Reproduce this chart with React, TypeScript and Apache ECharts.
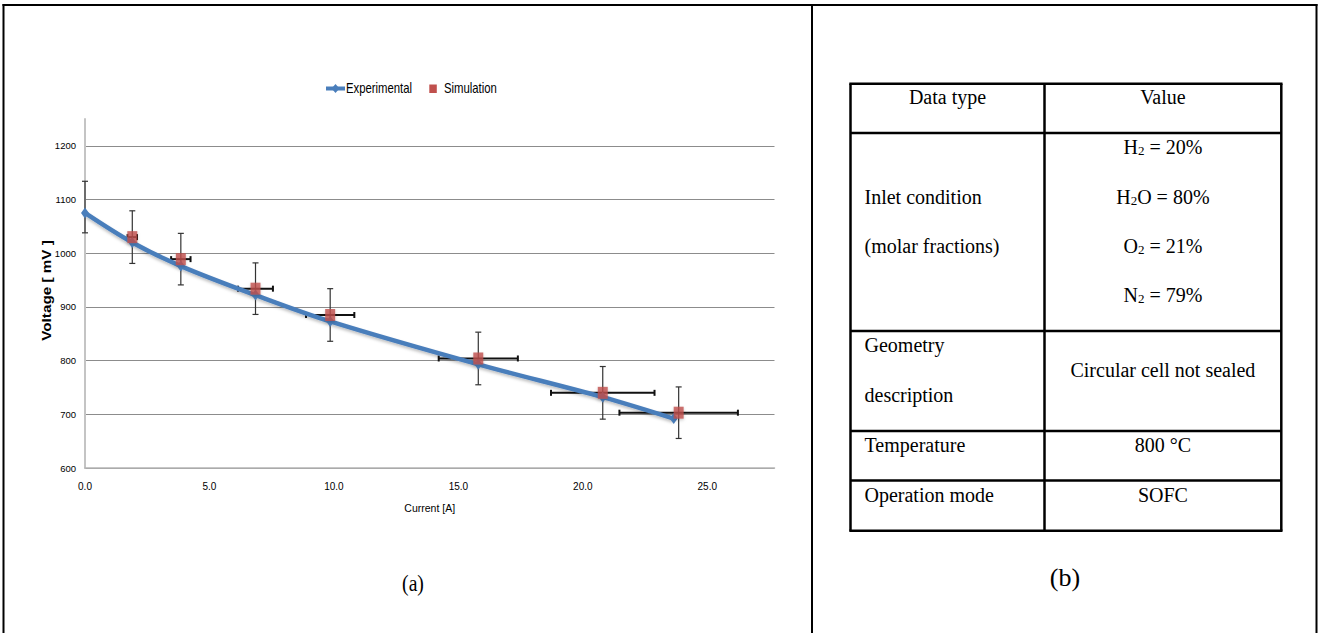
import React, { useEffect, useRef } from "react";
import * as echarts from "echarts";

// ---- Chart (a): polarisation curve ----
const expCurrent = [0, 1.9, 3.85, 6.85, 9.85, 15.8, 20.8, 23.65];
const expVoltage = [1075, 1020, 976, 922, 873, 793, 732, 692];

const simCurrent = [1.9, 3.85, 6.85, 9.85, 15.8, 20.8, 23.85];
const simVoltage = [1030, 989, 934, 885, 804, 740, 703];

// error bars: centre (current, voltage) and half ranges
const barCurrent = [0, 1.9, 3.85, 6.85, 9.85, 15.8, 20.8, 23.85];
const barVoltage = [1086, 1030, 989, 934, 885, 804, 740, 703];
const barCurrentErr = [0, 0.19, 0.39, 0.7, 0.97, 1.59, 2.08, 2.38];
const barVoltageErr = [48, 49, 48, 48, 49, 49, 49, 48];

const seriesNames = ["Experimental", "Simulation"];
const xAxisTitle = "Current [A]";
const yAxisTitle = "Voltage [ mV ]";

// ---- Table (b): test conditions ----
const tableHeader = ["Data type", "Value"];
const inletLabel = ["Inlet condition", "(molar fractions)"];
const inletSpecies = [
  { base: "H", sub: "2", rest: " = 20%" },
  { base: "H", sub: "2", rest: "O = 80%" },
  { base: "O", sub: "2", rest: " = 21%" },
  { base: "N", sub: "2", rest: " = 79%" },
];
const geometryLabel = ["Geometry", "description"];
const geometryValue = "Circular cell not sealed";
const temperatureRow = ["Temperature", "800 °C"];
const modeRow = ["Operation mode", "SOFC"];
const captions = ["(a)", "(b)"];

const SANS = "'Liberation Sans', Arial, sans-serif";
const SERIF = "'Liberation Serif', 'Times New Roman', serif";

const BLUE = "#4a7ebb";
const RED = "#c0504d";

function hline(x1: number, x2: number, y: number, w: number, color = "#000") {
  return { type: "line", silent: true, shape: { x1, y1: y, x2, y2: y }, style: { stroke: color, lineWidth: w } };
}
function vline(x: number, y1: number, y2: number, w: number) {
  return { type: "line", silent: true, shape: { x1: x, y1, x2: x, y2 }, style: { stroke: "#000", lineWidth: w } };
}
function serifText(text: string, x: number, y: number, align: string, size = 20) {
  return {
    type: "text",
    silent: true,
    x,
    y,
    style: { text, fill: "#000", fontSize: size, fontFamily: SERIF, align, verticalAlign: "middle" },
  };
}

export default function App() {
  const ref = useRef<HTMLDivElement>(null);

  useEffect(() => {
    if (!ref.current) return;
    const chart = echarts.init(ref.current, undefined, { renderer: "svg" });

    const barData = barCurrent.map((c, i) => [c, barVoltage[i], barCurrentErr[i], barVoltageErr[i]]);

    // table geometry
    const tL = 850.5, tR = 1281.3, tC = 1044.5, tT = 83.7, tB = 530.7;
    const rowLines = [133, 331, 431, 480.5];
    const col1Left = 864.5;
    const col1Mid = (tL + tC) / 2;
    const col2Mid = (tC + tR) / 2;

    const rich = {
      n: { fontSize: 20, fontFamily: SERIF, fill: "#000", color: "#000" },
      s: { fontSize: 13, fontFamily: SERIF, fill: "#000", color: "#000", padding: [7, 0, 0, 0] },
    };
    const speciesY = [147, 196.5, 246, 295];

    // legend row (condensed chart lettering)
    const legendY = 88.5;
    const legend: any[] = [
      hline(326, 345, legendY, 4, BLUE),
      {
        type: "polygon",
        silent: true,
        shape: { points: [[335.5, legendY - 4.5], [339.5, legendY], [335.5, legendY + 4.5], [331.5, legendY]] },
        style: { fill: BLUE },
      },
      {
        type: "text",
        silent: true,
        x: 346,
        y: legendY,
        scaleX: 0.81,
        style: { text: seriesNames[0], fill: "#000", fontSize: 14, fontFamily: SANS, align: "left", verticalAlign: "middle" },
      },
      {
        type: "rect",
        silent: true,
        shape: { x: 429.3, y: legendY - 4, width: 7.5, height: 8.5 },
        style: { fill: RED },
      },
      {
        type: "text",
        silent: true,
        x: 444,
        y: legendY,
        scaleX: 0.81,
        style: { text: seriesNames[1], fill: "#000", fontSize: 14, fontFamily: SANS, align: "left", verticalAlign: "middle" },
      },
      // vertical axis title
      {
        type: "text",
        silent: true,
        x: 46.5,
        y: 290.5,
        rotation: Math.PI / 2,
        scaleX: 1.22,
        style: {
          text: yAxisTitle,
          fill: "#000",
          fontSize: 12.5,
          fontWeight: "bold",
          fontFamily: SANS,
          align: "center",
          verticalAlign: "middle",
        },
      },
    ];

    const graphics: any[] = [
      // outer frame
      hline(2.5, 1317.5, 5, 2),
      vline(3.5, 4, 633, 2),
      vline(812, 4, 633, 2),
      vline(1316.5, 4, 633, 2),
      // table borders
      hline(tL - 1.2, tR + 1.2, tT, 2.5),
      hline(tL - 1.2, tR + 1.2, tB, 2.5),
      ...rowLines.map((y) => hline(tL, tR, y, 2.5)),
      vline(tL, tT, tB, 2.5),
      vline(tC, tT, tB, 2.5),
      vline(tR, tT, tB, 2.5),
      // header
      serifText(tableHeader[0], col1Mid, 97, "center"),
      serifText(tableHeader[1], col2Mid, 97, "center"),
      // inlet
      serifText(inletLabel[0], col1Left, 197, "left"),
      serifText(inletLabel[1], col1Left, 246, "left"),
      ...inletSpecies.map((s, i) => ({
        type: "text",
        silent: true,
        x: col2Mid,
        y: speciesY[i],
        style: {
          text: `{n|${s.base}}{s|${s.sub}}{n|${s.rest}}`,
          rich,
          align: "center",
          verticalAlign: "middle",
          fill: "#000",
        },
      })),
      // geometry
      serifText(geometryLabel[0], col1Left, 344.5, "left"),
      serifText(geometryLabel[1], col1Left, 394.5, "left"),
      serifText(geometryValue, col2Mid, 369.5, "center"),
      // temperature / mode
      serifText(temperatureRow[0], col1Left, 444.5, "left"),
      serifText(temperatureRow[1], col2Mid, 444.5, "center"),
      serifText(modeRow[0], col1Left, 494.5, "left"),
      serifText(modeRow[1], col2Mid, 494.5, "center"),
      // captions
      {
        type: "text",
        silent: true,
        x: 413,
        y: 583,
        scaleX: 0.82,
        style: { text: captions[0], fill: "#000", fontSize: 24, fontFamily: SERIF, align: "center", verticalAlign: "middle" },
      },
      serifText(captions[1], 1065, 577, "center", 26),
      ...legend,
    ];

    chart.setOption({
      animation: false,
      backgroundColor: "#fff",
      grid: { left: 85, right: 543.5, top: 119, bottom: 165, containLabel: false },
      xAxis: {
        type: "value",
        min: 0,
        max: 27.7,
        interval: 5,
        name: xAxisTitle,
        nameLocation: "middle",
        nameGap: 34,
        nameTextStyle: { fontFamily: SANS, fontSize: 10.5, color: "#000" },
        axisLine: { show: true, lineStyle: { color: "#b5b5b5", width: 1.5 } },
        axisTick: { show: false },
        axisLabel: {
          margin: 13,
          fontFamily: SANS,
          fontSize: 10,
          color: "#000",
          showMaxLabel: false,
          formatter: (v: number) => v.toFixed(1),
        },
        splitLine: { show: false },
      },
      yAxis: {
        type: "value",
        min: 600,
        max: 1250,
        interval: 100,
        axisLine: { show: true, lineStyle: { color: "#c4c4c4", width: 2 } },
        axisTick: { show: false },
        axisLabel: {
          margin: 9,
          fontFamily: SANS,
          fontSize: 9.5,
          color: "#000",
          showMaxLabel: false,
          formatter: (v: number) => String(v),
        },
        splitLine: { show: true, showMaxLine: false, lineStyle: { color: "#8c8c8c", width: 1 } },
      },
      series: [
        {
          type: "custom",
          name: "errorBars",
          z: 1,
          clip: false,
          silent: true,
          data: barData,
          encode: { x: 0, y: 1 },
          renderItem: (params: any, api: any) => {
            const x = api.value(0);
            const y = api.value(1);
            const dx = api.value(2);
            const dy = api.value(3);
            const top = api.coord([x, y + dy]);
            const bot = api.coord([x, y - dy]);
            const cap = 3;
            const vStyle = { stroke: "#333", lineWidth: 1.2 };
            const children: any[] = [
              { type: "line", shape: { x1: top[0], y1: top[1], x2: bot[0], y2: bot[1] }, style: vStyle },
              { type: "line", shape: { x1: top[0] - cap, y1: top[1], x2: top[0] + cap, y2: top[1] }, style: vStyle },
              { type: "line", shape: { x1: bot[0] - cap, y1: bot[1], x2: bot[0] + cap, y2: bot[1] }, style: vStyle },
            ];
            if (dx > 0) {
              const l = api.coord([x - dx, y]);
              const r = api.coord([x + dx, y]);
              const hStyle = { stroke: "#111", lineWidth: 2 };
              children.push(
                { type: "line", shape: { x1: l[0], y1: l[1], x2: r[0], y2: r[1] }, style: hStyle },
                { type: "line", shape: { x1: l[0], y1: l[1] - cap, x2: l[0], y2: l[1] + cap }, style: hStyle },
                { type: "line", shape: { x1: r[0], y1: r[1] - cap, x2: r[0], y2: r[1] + cap }, style: hStyle }
              );
            }
            return { type: "group", children };
          },
        },
        {
          type: "line",
          name: seriesNames[0],
          z: 2,
          smooth: 0.35,
          data: expCurrent.map((c, i) => [c, expVoltage[i]]),
          symbol: "diamond",
          symbolSize: [8, 11],
          showAllSymbol: true,
          lineStyle: {
            color: BLUE,
            width: 4.5,
            shadowColor: "rgba(0,0,0,0.25)",
            shadowBlur: 3,
            shadowOffsetY: 2,
          },
          itemStyle: { color: BLUE, borderWidth: 0 },
        },
        {
          type: "scatter",
          name: seriesNames[1],
          z: 3,
          data: simCurrent.map((c, i) => [c, simVoltage[i]]),
          symbol: "rect",
          symbolSize: [10, 12],
          itemStyle: {
            color: RED,
            shadowColor: "rgba(0,0,0,0.25)",
            shadowBlur: 3,
            shadowOffsetY: 1.5,
          },
        },
      ],
      graphic: graphics,
    });

    return () => chart.dispose();
  }, []);

  return (
    <div
      ref={ref}
      style={{ position: "fixed", left: 0, top: 0, width: 1318, height: 633, background: "#fff" }}
    />
  );
}
